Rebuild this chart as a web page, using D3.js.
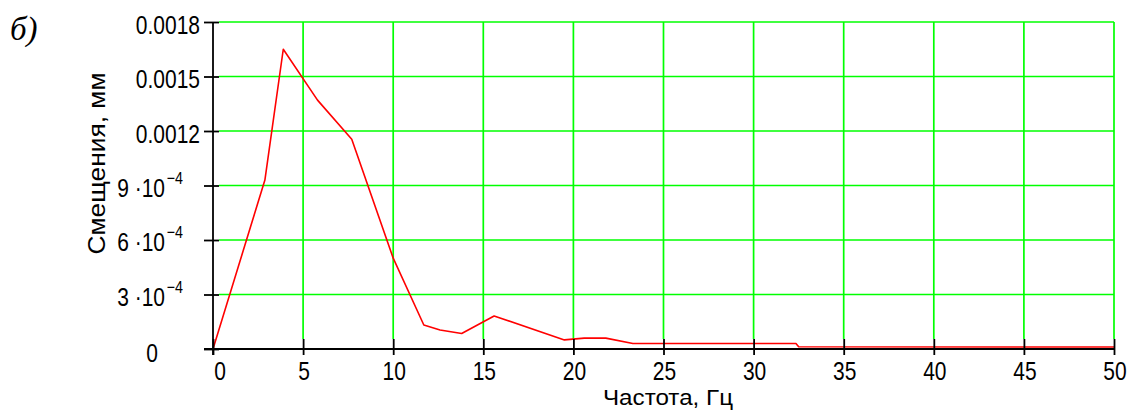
<!DOCTYPE html>
<html>
<head>
<meta charset="utf-8">
<script src="https://cdn.jsdelivr.net/npm/d3@7"></script>
<style>
  html, body { margin: 0; padding: 0; background: #fff; }
  svg { display: block; }
  text { font-family: "Liberation Sans", Arial, sans-serif; fill: #000; }
</style>
</head>
<body>
<svg id="chart" width="1135" height="417"></svg>
<script>
// ---- data ----
const freq = [0, 2.88, 3.9, 5.8, 7.7, 10.0, 11.7, 12.6, 13.8, 15.6, 19.5, 20.6, 21.8, 23.3, 32.35, 32.5, 50];
const disp = [0, 0.00093, 0.00165, 0.00137, 0.001155, 0.00050, 0.000132, 0.000105, 0.000085, 0.000182, 0.00005, 0.00006, 0.00006, 0.00003, 0.00003, 0.000012, 0.000011];
const xTicks = [0, 5, 10, 15, 20, 25, 30, 35, 40, 45, 50];
const yTicks = [0, 0.0003, 0.0006, 0.0009, 0.0012, 0.0015, 0.0018];
const yTickLabels = ["0", "3 ·10^−4", "6 ·10^−4", "9 ·10^−4", "0.0012", "0.0015", "0.0018"];
const xTitle = "Частота, Гц";
const yTitle = "Смещения, мм";
const panelLabel = "б)";

// ---- layout ----
const svg = d3.select("#chart");
const x = d3.scaleLinear().domain([0, 50]).range([213, 1114]);
const y = d3.scaleLinear().domain([0, 0.0018]).range([349, 22]);
const green = "#00ff00";
const sx = 0.84;

// grid: vertical lines
svg.append("g").selectAll("line").data(xTicks.filter(d => d > 0)).join("line")
  .attr("x1", d => x(d)).attr("x2", d => x(d))
  .attr("y1", y(0.0018)).attr("y2", y(0) - 10)
  .attr("stroke", green).attr("stroke-width", 1.7);
// grid: horizontal lines
svg.append("g").selectAll("line").data(yTicks.filter(d => d > 0)).join("line")
  .attr("x1", x(0) + 6).attr("x2", x(50))
  .attr("y1", d => y(d)).attr("y2", d => y(d))
  .attr("stroke", green).attr("stroke-width", 1.7);

// data line
const line = d3.line().x((d, i) => x(freq[i])).y(d => y(d));
svg.append("path").datum(disp)
  .attr("d", line)
  .attr("fill", "none").attr("stroke", "#ff0000").attr("stroke-width", 1.6)
  .attr("stroke-linejoin", "round");

// axes via d3.axis
const xAxis = svg.append("g").attr("transform", `translate(0,${y(0)})`)
  .call(d3.axisBottom(x).tickValues(xTicks).tickSize(6).tickFormat(""));
xAxis.select(".domain").remove();
xAxis.selectAll(".tick line").attr("y1", -10).attr("y2", 6).attr("stroke", "#000").attr("stroke-width", 1.8);

const yAxis = svg.append("g").attr("transform", `translate(${x(0)},0)`)
  .call(d3.axisLeft(y).tickValues(yTicks).tickSize(9).tickFormat(""));
yAxis.select(".domain").remove();
yAxis.selectAll(".tick line").attr("x1", 6).attr("x2", -9).attr("stroke", "#000").attr("stroke-width", 1.8);

// axis lines
svg.append("line").attr("x1", x(0) - 9).attr("x2", x(50)).attr("y1", y(0)).attr("y2", y(0))
  .attr("stroke", "#000").attr("stroke-width", 1.8);
svg.append("line").attr("x1", x(0)).attr("x2", x(0)).attr("y1", y(0.0018)).attr("y2", y(0) + 6)
  .attr("stroke", "#000").attr("stroke-width", 1.8);

// x tick labels
svg.append("g").selectAll("text").data(xTicks).join("text")
  .attr("transform", d => `translate(${x(d) + (d === 0 ? 7 : 1)},380) scale(${sx},1)`)
  .attr("text-anchor", "middle").attr("font-size", 25)
  .text(d => d);

// y tick labels
const yl = svg.append("g").selectAll("text").data(yTicks).join("text")
  .attr("font-size", 25)
  .attr("transform", (d, i) => {
    const lab = yTickLabels[i];
    if (lab === "0") return `translate(152,${y(d) + 13}) scale(${sx},1)`;
    if (lab.includes("^")) return `translate(183,${y(d) + 11}) scale(${sx},1)`;
    return `translate(200,${y(d) + 11.5}) scale(${sx},1)`;
  })
  .attr("text-anchor", (d, i) => yTickLabels[i] === "0" ? "middle" : "end");
yl.each(function (d, i) {
  const parts = yTickLabels[i].split("^");
  const t = d3.select(this);
  t.append("tspan").text(parts[0]);
  if (parts.length > 1) {
    t.append("tspan").attr("dy", -13).attr("dx", 2).attr("font-size", 17).text(parts[1]);
  }
});

// axis titles
svg.append("text").attr("x", 668).attr("y", 405).attr("text-anchor", "middle")
  .attr("font-size", 22).attr("textLength", 130).attr("lengthAdjust", "spacingAndGlyphs")
  .text(xTitle);
svg.append("text").attr("transform", "translate(105,163.5) rotate(-90)").attr("text-anchor", "middle")
  .attr("font-size", 23).attr("textLength", 182).attr("lengthAdjust", "spacingAndGlyphs")
  .text(yTitle);

// panel label
svg.append("text").attr("x", 10).attr("y", 40)
  .style("font-family", "'Liberation Serif', 'Times New Roman', serif")
  .style("font-style", "italic").style("font-size", "33px")
  .text(panelLabel);
</script>
</body>
</html>
